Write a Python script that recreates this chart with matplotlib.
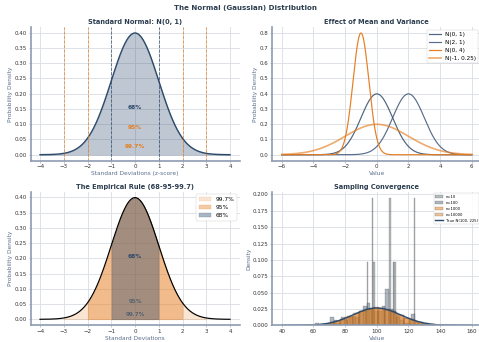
import numpy as np
import matplotlib
matplotlib.use("Agg")
import matplotlib.pyplot as plt

NAVY = "#2E4A6B"
ORANGE = "#E67E22"
LABEL_C = "#5B6F8C"
TITLE_C = "#2C3E50"

# --- data ---
z_vlines = [-3, -2, -1, 1, 2, 3]
z_pct_labels = ["68%", "95%", "99.7%"]

param_labels = ["N(0, 1)", "N(2, 1)", "N(0, 4)", "N(-1, 0.25)"]
param_mu = [0, 2, -1, 0]
param_sigma = [1, 1, 0.5, 2]

# sampling histograms: bin range + counts per bin (30 bins each)
n10_range = (93.6, 124.4)
n10_counts = [1, 0, 0, 2, 1, 0, 0, 0, 0, 0, 0, 0, 0, 0, 2,
              0, 1, 1, 0, 0, 0, 0, 0, 0, 0, 0, 0, 0, 0, 2]
n100_range = (61.0, 131.0)
n100_counts = [1, 0, 0, 0, 3, 2, 1, 3, 2, 3, 3, 3, 5, 7, 8,
               6, 5, 5, 7, 13, 6, 5, 3, 2, 1, 1, 4, 0, 1, 0]
n1000_range = (55.0, 148.0)
n1000_counts = [1, 2, 4, 7, 9, 15, 22, 27, 40, 46, 61, 66, 78, 81, 87,
                80, 74, 70, 56, 50, 36, 30, 19, 16, 9, 7, 3, 2, 1, 1]
n10000_range = (41.0, 161.0)
n10000_counts = [1, 2, 5, 12, 24, 52, 97, 160, 268, 395, 565, 728, 884, 1012, 1058,
                 1049, 950, 815, 640, 480, 332, 208, 128, 68, 37, 17, 8, 3, 1, 1]
true_mu, true_sigma = 100, 15


def pdf(x, mu=0.0, s=1.0):
    return np.exp(-0.5 * ((x - mu) / s) ** 2) / (s * np.sqrt(2 * np.pi))


def style(ax):
    ax.set_facecolor("white")
    ax.grid(True, color="#D9DDE4", linewidth=1.8)
    ax.set_axisbelow(True)
    for s in ["top", "right"]:
        ax.spines[s].set_visible(False)
    for s in ["left", "bottom"]:
        ax.spines[s].set_color("#8D9BB0")
        ax.spines[s].set_linewidth(3.5)
    ax.tick_params(labelsize=11.5, colors="#333333", length=4, width=1.2)
    ax.tick_params(axis="both", color="#8D9BB0")


fig = plt.figure(figsize=(479 / 34.2, 342 / 34.2), dpi=34.2)
W, H = 0.4363, 0.3915
ax1 = fig.add_axes([0.0637, 0.5298, W, H])
ax2 = fig.add_axes([0.5685, 0.5298, W, H])
ax3 = fig.add_axes([0.0637, 0.0485, W, H])
ax4 = fig.add_axes([0.5685, 0.0485, W, H])
for ax in (ax1, ax2, ax3, ax4):
    style(ax)

TS, LS = 14, 12.5

# --- top-left: standard normal ---
x = np.linspace(-4, 4, 400)
y = pdf(x)
ax1.plot(x, y, color=NAVY, linewidth=3)
ax1.fill_between(x, y, color=NAVY, alpha=0.3)
for v in z_vlines:
    c = NAVY if abs(v) == 1 else ORANGE
    ax1.axvline(v, color=c, linestyle="--", linewidth=1.8, alpha=0.8)
ax1.text(0, 0.155, z_pct_labels[0], ha="center", va="center", fontsize=12.5,
         fontweight="bold", color=NAVY)
ax1.text(0, 0.088, z_pct_labels[1], ha="center", va="center", fontsize=12.5,
         fontweight="bold", color=ORANGE)
ax1.text(0, 0.026, z_pct_labels[2], ha="center", va="center", fontsize=12.5,
         fontweight="bold", color=ORANGE)
ax1.set_yticks(np.arange(0, 0.41, 0.05))
ax1.set_title("Standard Normal: N(0, 1)", fontsize=TS, fontweight="bold", color=TITLE_C)
ax1.set_xlabel("Standard Deviations (z-score)", fontsize=LS, color=LABEL_C)
ax1.set_ylabel("Probability Density", fontsize=LS, color=LABEL_C)

# --- top-right: mean and variance ---
x2 = np.linspace(-6, 6, 500)
cols = [NAVY, "#3D5578", ORANGE, ORANGE]
lws = [2.5, 2.5, 2.5, 3.5]
alphas = [0.85, 0.85, 1.0, 0.65]
for lab, mu, s, c, lw, a in zip(param_labels, param_mu, param_sigma, cols, lws, alphas):
    ax2.plot(x2, pdf(x2, mu, s), color=c, linewidth=lw, alpha=a, label=lab)
ax2.set_title("Effect of Mean and Variance", fontsize=TS, fontweight="bold", color=TITLE_C)
ax2.set_xlabel("Value", fontsize=LS, color=LABEL_C)
ax2.set_ylabel("Probability Density", fontsize=LS, color=LABEL_C)
ax2.legend(loc="upper right", fontsize=12, framealpha=0.9)

# --- bottom-left: empirical rule ---
ax3.plot(x, y, color="black", linewidth=2.5)
ax3.fill_between(x, y, where=(x >= -3) & (x <= 3), color=ORANGE, alpha=0.2, label="99.7%")
ax3.fill_between(x, y, where=(x >= -2) & (x <= 2), color=ORANGE, alpha=0.4, label="95%")
ax3.fill_between(x, y, where=(x >= -1) & (x <= 1), color=NAVY, alpha=0.4, label="68%")
ax3.text(0, 0.206, "68%", ha="center", va="center", fontsize=12.5, fontweight="bold", color=NAVY)
ax3.text(0, 0.06, "95%", ha="center", va="center", fontsize=13, color=NAVY)
ax3.text(0, 0.016, "99.7%", ha="center", va="center", fontsize=13, color=NAVY)
ax3.set_yticks(np.arange(0, 0.41, 0.05))
ax3.set_title("The Empirical Rule (68-95-99.7)", fontsize=TS, fontweight="bold", color=TITLE_C)
ax3.set_xlabel("Standard Deviations", fontsize=LS, color=LABEL_C)
ax3.set_ylabel("Probability Density", fontsize=LS, color=LABEL_C)
ax3.legend(loc="upper right", fontsize=12.5, framealpha=0.9)

# --- bottom-right: sampling convergence ---
hists = [
    ("n=10", n10_range, n10_counts, "#6F7A80"),
    ("n=100", n100_range, n100_counts, "#5E6E82"),
    ("n=1000", n1000_range, n1000_counts, ORANGE),
    ("n=10000", n10000_range, n10000_counts, "#D98A3A"),
]
for lab, rng, counts, c in hists:
    edges = np.linspace(rng[0], rng[1], len(counts) + 1)
    centers = (edges[:-1] + edges[1:]) / 2
    ax4.hist(centers, bins=edges, weights=counts, density=True, color=c,
             alpha=0.5, edgecolor="black", linewidth=0.6, label=lab)
xt = np.linspace(40, 160, 300)
ax4.plot(xt, pdf(xt, true_mu, true_sigma), color=NAVY, linewidth=3,
         label=f"True N({true_mu}, {true_sigma ** 2})")
ax4.set_xlim(34, 166)
ax4.set_yticks(np.arange(0, 0.201, 0.025))
ax4.set_title("Sampling Convergence", fontsize=TS, fontweight="bold", color=TITLE_C)
ax4.set_xlabel("Value", fontsize=LS, color=LABEL_C)
ax4.set_ylabel("Density", fontsize=LS, color=LABEL_C)
ax4.legend(loc="upper right", fontsize=8, framealpha=0.9)

fig.suptitle("The Normal (Gaussian) Distribution", x=0.513, y=0.985,
             fontsize=15, fontweight="bold", color=TITLE_C)
fig.savefig("out.png", dpi=34.2)
